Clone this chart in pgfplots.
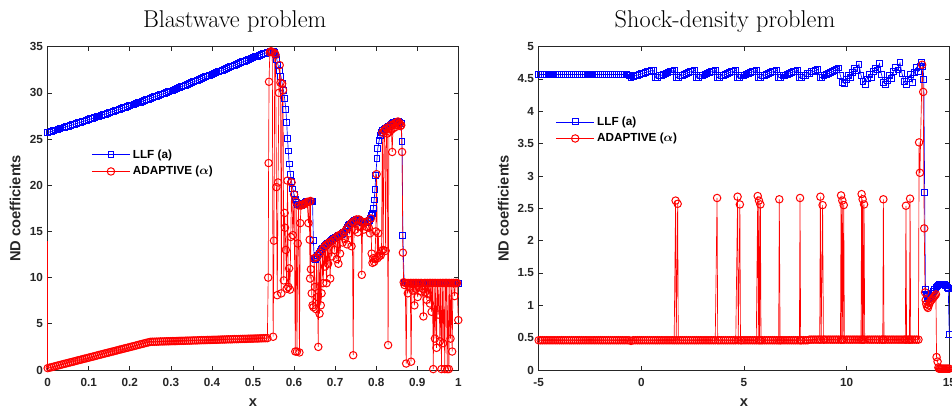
\documentclass[border=0pt]{standalone}
\usepackage{fontspec}
\usepackage{amsmath}
\usepackage{pgfplots}
\pgfplotsset{compat=1.18}
\newfontfamily\lsans{Liberation Sans}
\newcommand\tickfont{\lsans\bfseries\fontsize{8.8}{10}\selectfont}
\newcommand\labfont{\lsans\bfseries\fontsize{11}{13}\selectfont}
\definecolor{axgray}{rgb}{0.15,0.15,0.15}
\pgfplotsset{
  myax/.style={
    scale only axis, width=307.95pt, height=242.5pt, clip=false,
    tick align=inside, major tick length=3pt,
    axis line style={line width=0.6pt, color=axgray},
    tick style={line width=0.5pt, color=axgray},
    ticklabel style={font=\tickfont, text=axgray},
    xticklabel style={yshift=-3pt},
    label style={font=\labfont, text=axgray},
    legend style={draw=none, fill=none, font=\tickfont, inner sep=0pt, outer sep=0pt, row sep=0.6pt},
    legend cell align=left,
    legend image code/.code={\draw[mark repeat=2,mark phase=2] plot coordinates {(0cm,0cm) (0.5cm,0cm) (1cm,0cm)};},
  },
  bl/.style={color=blue, line width=0.5pt, mark=square, mark size=2.2pt, mark options={solid, line width=0.75pt, fill=none}},
  rd/.style={color=red, line width=0.5pt, mark=o, mark size=2.8pt, mark options={solid, line width=0.75pt, fill=none}},
}
\begin{document}
\begin{tikzpicture}
\node[anchor=base, font=\fontsize{18.2}{20}\selectfont] at (176pt,287.8pt) {Blastwave problem};
\node[anchor=base, font=\fontsize{18.2}{20}\selectfont] at (543.75pt,287.8pt) {Shock-density problem};
\begin{axis}[myax, at={(35.78pt,30.75pt)}, anchor=south west,
  xmin=0, xmax=1, ymin=0, ymax=35,
  xtick={0,0.1,0.2,0.3,0.4,0.5,0.6,0.7,0.8,0.9,1},
  xticklabels={0,0.1,0.2,0.3,0.4,0.5,0.6,0.7,0.8,0.9,1},
  ytick={0,5,10,15,20,25,30,35},
  yticklabels={0,5,10,15,20,25,30,35},
  xlabel={x}, ylabel={ND coefficients},
  xlabel style={at={(axis description cs:0.5,-0.102)}, anchor=center},
  ylabel style={at={(axis description cs:-0.0795,0.5)}, anchor=center},
  legend style={at={(axis description cs:0.107,0.69)}, anchor=north west},
]
\addplot[bl] coordinates {
(0.000,25.70)(0.005,25.77)(0.010,25.84)(0.015,25.91)(0.020,25.98)(0.025,26.05)(0.030,26.12)(0.035,26.19)(0.040,26.26)(0.045,26.33)
(0.050,26.40)(0.055,26.47)(0.060,26.54)(0.065,26.61)(0.070,26.68)(0.075,26.75)(0.080,26.82)(0.085,26.89)(0.090,26.96)(0.095,27.03)
(0.100,27.10)(0.105,27.18)(0.110,27.25)(0.115,27.33)(0.120,27.40)(0.125,27.48)(0.130,27.55)(0.135,27.63)(0.140,27.70)(0.145,27.78)
(0.150,27.85)(0.155,27.93)(0.160,28.00)(0.165,28.08)(0.170,28.15)(0.175,28.23)(0.180,28.30)(0.185,28.38)(0.190,28.45)(0.195,28.53)
(0.200,28.60)(0.205,28.68)(0.210,28.76)(0.215,28.84)(0.220,28.92)(0.225,29.00)(0.230,29.08)(0.235,29.16)(0.240,29.24)(0.245,29.32)
(0.250,29.40)(0.255,29.48)(0.260,29.56)(0.265,29.64)(0.270,29.72)(0.275,29.80)(0.280,29.88)(0.285,29.96)(0.290,30.04)(0.295,30.12)
(0.300,30.20)(0.305,30.29)(0.310,30.38)(0.315,30.47)(0.320,30.56)(0.325,30.65)(0.330,30.74)(0.335,30.83)(0.340,30.92)(0.345,31.01)
(0.350,31.10)(0.355,31.19)(0.360,31.28)(0.365,31.37)(0.370,31.46)(0.375,31.55)(0.380,31.64)(0.385,31.73)(0.390,31.82)(0.395,31.91)
(0.400,32.00)(0.405,32.09)(0.410,32.18)(0.415,32.27)(0.420,32.36)(0.425,32.45)(0.430,32.54)(0.435,32.63)(0.440,32.72)(0.445,32.81)
(0.450,32.90)(0.455,32.99)(0.460,33.08)(0.465,33.17)(0.470,33.26)(0.475,33.35)(0.480,33.44)(0.485,33.53)(0.490,33.62)(0.495,33.71)
(0.500,33.80)(0.505,33.89)(0.510,33.98)(0.515,34.06)(0.520,34.14)(0.525,34.22)(0.530,34.30)(0.535,34.36)
(0.540,34.40)(0.543,34.50)(0.546,34.50)(0.549,34.50)(0.552,34.40)(0.555,34.10)(0.558,33.60)(0.561,33.00)(0.564,32.40)(0.568,31.80)
(0.571,31.00)(0.574,30.30)(0.577,29.40)(0.580,28.20)(0.582,26.80)(0.584,25.10)(0.586,23.70)(0.588,22.30)(0.591,21.20)(0.594,20.40)
(0.597,19.60)(0.600,19.00)(0.603,18.50)(0.606,18.10)(0.609,17.90)(0.612,17.80)(0.615,17.80)(0.618,17.80)(0.621,17.90)(0.624,18.00)
(0.627,18.10)(0.630,18.20)(0.633,18.20)(0.636,18.30)(0.639,18.30)(0.642,18.30)(0.645,18.20)(0.647,14.00)(0.649,12.10)(0.652,12.00)
(0.655,12.20)(0.658,12.40)(0.661,12.60)(0.664,12.80)(0.667,13.00)(0.670,13.20)(0.673,13.40)(0.676,13.50)(0.679,13.60)(0.682,13.70)
(0.685,13.80)(0.688,13.90)(0.691,14.00)(0.694,14.10)(0.697,14.20)(0.700,14.30)(0.703,14.40)(0.706,14.50)(0.709,14.60)(0.712,14.60)
(0.715,14.70)(0.718,14.80)(0.721,14.90)(0.724,15.00)(0.727,15.20)(0.730,15.40)(0.733,15.60)(0.736,15.80)(0.739,15.90)(0.742,16.00)
(0.745,16.10)(0.748,16.20)(0.751,16.30)(0.754,16.30)(0.757,16.30)(0.760,16.20)(0.763,16.10)(0.766,16.00)(0.769,16.00)(0.772,16.00)
(0.775,16.00)(0.778,16.10)(0.781,16.10)(0.784,16.20)(0.787,16.40)(0.789,16.70)(0.791,16.90)(0.793,17.50)(0.795,18.40)(0.797,19.50)
(0.799,21.10)(0.802,22.90)(0.804,24.00)(0.807,24.80)(0.810,25.40)(0.813,25.70)(0.816,25.90)(0.819,26.00)(0.822,26.10)(0.825,26.20)
(0.828,26.30)(0.831,26.40)(0.834,26.50)(0.837,26.60)(0.840,26.70)(0.843,26.80)(0.846,26.80)(0.849,26.90)(0.852,26.90)(0.855,26.90)
(0.858,26.80)(0.861,26.70)(0.863,24.70)(0.865,14.60)(0.868,9.50)
(0.871,9.45)(0.875,9.45)(0.879,9.44)(0.883,9.44)(0.887,9.43)(0.891,9.43)(0.895,9.42)(0.899,9.42)(0.903,9.41)(0.907,9.41)
(0.911,9.40)(0.915,9.40)(0.919,9.39)(0.923,9.39)(0.927,9.38)(0.931,9.38)(0.935,9.37)(0.939,9.37)(0.943,9.36)(0.947,9.36)
(0.951,9.35)(0.955,9.35)(0.959,9.35)(0.963,9.34)(0.967,9.34)(0.971,9.34)(0.975,9.34)(0.979,9.34)(0.983,9.34)(0.987,9.34)
(0.991,9.34)(0.995,9.34)(1.000,9.34)
};
\addlegendentry{LLF (a)}
\addplot[rd] coordinates {
(0.000,0.20)(0.005,0.26)(0.010,0.31)(0.015,0.37)(0.020,0.43)(0.025,0.49)(0.030,0.54)(0.035,0.60)(0.040,0.66)(0.045,0.71)
(0.050,0.77)(0.055,0.83)(0.060,0.88)(0.065,0.94)(0.070,1.00)(0.075,1.06)(0.080,1.11)(0.085,1.17)(0.090,1.23)(0.095,1.28)
(0.100,1.34)(0.105,1.40)(0.110,1.45)(0.115,1.51)(0.120,1.57)(0.125,1.63)(0.130,1.68)(0.135,1.74)(0.140,1.80)(0.145,1.85)
(0.150,1.91)(0.155,1.97)(0.160,2.02)(0.165,2.08)(0.170,2.14)(0.175,2.20)(0.180,2.25)(0.185,2.31)(0.190,2.37)(0.195,2.42)
(0.200,2.48)(0.205,2.54)(0.210,2.59)(0.215,2.65)(0.220,2.71)(0.225,2.77)(0.230,2.82)(0.235,2.88)(0.240,2.94)(0.245,2.99)
(0.250,3.05)(0.255,3.06)(0.260,3.06)(0.265,3.07)(0.270,3.08)(0.275,3.09)(0.280,3.09)(0.285,3.10)(0.290,3.11)(0.295,3.11)
(0.300,3.12)(0.305,3.13)(0.310,3.13)(0.315,3.14)(0.320,3.15)(0.325,3.16)(0.330,3.16)(0.335,3.17)(0.340,3.18)(0.345,3.18)
(0.350,3.19)(0.355,3.20)(0.360,3.20)(0.365,3.21)(0.370,3.22)(0.375,3.23)(0.380,3.23)(0.385,3.24)(0.390,3.25)(0.395,3.25)
(0.400,3.26)(0.405,3.27)(0.410,3.27)(0.415,3.28)(0.420,3.29)(0.425,3.30)(0.430,3.30)(0.435,3.31)(0.440,3.32)(0.445,3.32)
(0.450,3.33)(0.455,3.34)(0.460,3.34)(0.465,3.35)(0.470,3.36)(0.475,3.37)(0.480,3.37)(0.485,3.38)(0.490,3.39)(0.495,3.39)
(0.500,3.40)(0.505,3.41)(0.510,3.41)(0.515,3.42)(0.520,3.43)(0.525,3.44)(0.530,3.44)(0.535,3.45)
(0.537,10.0)(0.538,22.4)(0.539,31.2)(0.541,34.4)(0.544,34.5)(0.547,34.4)(0.549,3.6)(0.551,14.0)(0.553,34.3)(0.555,34.1)
(0.557,19.8)(0.559,8.1)(0.561,20.3)(0.563,30.0)(0.565,33.0)(0.567,31.1)(0.569,8.3)(0.571,31.0)(0.573,30.3)(0.575,9.7)
(0.577,17.0)(0.578,15.4)(0.580,13.0)(0.582,8.8)(0.584,20.5)(0.586,9.0)(0.588,11.0)(0.590,8.7)(0.592,14.4)(0.594,20.3)
(0.597,14.6)(0.600,19.0)(0.603,2.0)(0.605,18.2)(0.607,2.0)(0.609,13.7)(0.611,17.8)(0.613,1.9)(0.615,15.9)(0.617,17.8)
(0.620,17.9)(0.623,17.9)(0.626,18.0)(0.629,18.1)(0.632,18.2)(0.635,15.9)(0.637,18.2)(0.638,14.1)(0.639,9.9)(0.640,18.3)
(0.641,10.9)(0.643,8.3)(0.645,7.0)(0.647,6.8)(0.649,12.1)(0.651,9.0)(0.653,6.6)(0.655,12.2)(0.657,7.9)(0.659,2.5)
(0.660,12.5)(0.662,6.1)(0.664,12.7)(0.665,7.0)(0.667,8.3)(0.669,13.0)(0.671,9.4)(0.673,13.3)(0.675,11.2)(0.677,13.5)
(0.679,9.4)(0.681,13.6)(0.683,11.5)(0.685,13.8)(0.688,9.9)(0.690,13.9)(0.692,12.3)(0.695,14.1)(0.698,13.0)(0.701,14.3)
(0.704,12.0)(0.706,14.5)(0.708,11.5)(0.710,14.6)(0.712,12.6)(0.715,14.7)(0.718,13.8)(0.721,14.9)(0.724,14.2)(0.727,15.2)
(0.729,13.6)(0.732,15.5)(0.735,14.8)(0.738,15.8)(0.740,13.4)(0.742,16.0)(0.744,1.6)(0.746,16.1)(0.749,15.2)(0.752,16.3)
(0.755,14.9)(0.758,16.3)(0.761,15.5)(0.764,16.1)(0.765,10.3)(0.767,16.0)(0.770,15.2)(0.773,16.0)(0.776,15.5)(0.779,16.1)
(0.782,15.4)(0.785,14.8)(0.787,16.4)(0.789,12.6)(0.791,11.6)(0.793,12.1)(0.795,11.7)(0.797,12.0)(0.799,15.0)(0.801,21.2)
(0.803,12.1)(0.805,14.8)(0.807,12.3)(0.809,12.6)(0.811,12.4)(0.813,12.9)(0.815,25.7)(0.817,13.0)(0.819,25.9)(0.821,26.0)
(0.823,12.9)(0.825,26.2)(0.827,25.6)(0.829,2.7)(0.831,26.2)(0.833,25.8)(0.835,26.5)(0.837,26.0)(0.839,23.6)(0.841,26.5)
(0.843,26.2)(0.845,26.7)(0.847,26.3)(0.849,26.8)(0.851,26.5)(0.853,26.9)(0.855,26.6)(0.857,26.7)(0.859,26.4)(0.861,26.5)
(0.863,23.6)(0.865,12.7)(0.867,9.5)(0.869,9.2)(0.871,9.42)(0.873,0.7)(0.875,9.42)(0.877,8.3)(0.879,9.42)(0.881,9.0)
(0.883,9.42)(0.885,0.9)(0.887,9.42)(0.889,8.6)(0.891,9.42)(0.893,7.0)(0.895,9.42)(0.897,8.8)(0.899,9.42)(0.901,7.9)
(0.903,9.42)(0.905,9.0)(0.907,9.42)(0.909,8.5)(0.911,9.42)(0.913,8.8)(0.915,5.8)(0.917,9.42)(0.919,8.4)(0.921,9.42)
(0.923,7.6)(0.925,9.42)(0.927,8.2)(0.929,9.42)(0.931,7.2)(0.933,9.42)(0.935,6.3)(0.937,9.42)(0.939,0.1)(0.941,9.42)
(0.943,3.4)(0.945,9.42)(0.947,2.4)(0.949,9.42)(0.951,6.0)(0.953,9.42)(0.955,3.1)(0.957,9.42)(0.959,0.1)(0.961,9.42)
(0.963,2.9)(0.965,9.42)(0.967,0.1)(0.969,9.42)(0.971,9.42)(0.973,0.1)(0.975,9.42)(0.977,0.1)(0.979,9.42)(0.981,3.4)
(0.983,9.42)(0.985,2.0)(0.987,9.42)(0.989,9.42)(0.991,8.0)(0.993,9.42)(0.995,9.42)(0.997,9.42)(1.000,5.4)
};
\addlegendentry{ADAPTIVE ($\boldsymbol{\alpha}$)}
\addplot[red, line width=0.5pt, forget plot] coordinates {(0,0.2)(0,14.0)};
\end{axis}
\begin{axis}[myax, at={(404.0pt,30.75pt)}, anchor=south west,
  xmin=-5, xmax=15, ymin=0, ymax=5,
  xtick={-5,0,5,10,15}, xticklabels={-5,0,5,10,15},
  ytick={0,0.5,1,1.5,2,2.5,3,3.5,4,4.5,5},
  yticklabels={0,0.5,1,1.5,2,2.5,3,3.5,4,4.5,5},
  xlabel={x}, ylabel={ND coefficients},
  xlabel style={at={(axis description cs:0.5,-0.102)}, anchor=center},
  ylabel style={at={(axis description cs:-0.0857,0.5)}, anchor=center},
  legend style={at={(axis description cs:0.042,0.792)}, anchor=north west},
]
\addplot[bl] coordinates {
(-5.0,4.57)(-4.9,4.57)(-4.8,4.57)(-4.7,4.57)(-4.6,4.57)(-4.5,4.57)(-4.4,4.57)(-4.3,4.57)(-4.2,4.57)(-4.1,4.57)
(-4.0,4.57)(-3.9,4.57)(-3.8,4.57)(-3.7,4.57)(-3.6,4.57)(-3.5,4.57)(-3.4,4.57)(-3.3,4.57)(-3.2,4.57)(-3.1,4.57)
(-3.0,4.57)(-2.9,4.57)(-2.8,4.57)(-2.7,4.57)(-2.6,4.57)(-2.5,4.57)(-2.4,4.57)(-2.3,4.57)(-2.2,4.57)(-2.1,4.57)
(-2.0,4.57)(-1.9,4.57)(-1.8,4.57)(-1.7,4.57)(-1.6,4.57)(-1.5,4.57)(-1.4,4.57)(-1.3,4.57)(-1.2,4.57)(-1.1,4.57)
(-1.0,4.57)(-0.9,4.57)(-0.8,4.57)(-0.7,4.57)(-0.6,4.56)
(-0.5,4.53)(-0.4,4.54)(-0.3,4.55)(-0.2,4.56)(-0.1,4.57)(0.0,4.58)(0.1,4.59)(0.2,4.60)(0.3,4.61)(0.4,4.62)(0.5,4.63)(0.6,4.63)
(0.7,4.52)(0.8,4.53)(0.9,4.55)(1.0,4.56)(1.1,4.57)(1.2,4.59)(1.3,4.60)(1.4,4.61)(1.5,4.62)(1.6,4.64)
(1.7,4.52)(1.8,4.53)(1.9,4.55)(2.0,4.56)(2.1,4.57)(2.2,4.59)(2.3,4.60)(2.4,4.61)(2.5,4.62)(2.6,4.64)
(2.7,4.52)(2.8,4.53)(2.9,4.55)(3.0,4.56)(3.1,4.57)(3.2,4.59)(3.3,4.60)(3.4,4.61)(3.5,4.62)(3.6,4.64)
(3.7,4.52)(3.8,4.53)(3.9,4.55)(4.0,4.56)(4.1,4.57)(4.2,4.59)(4.3,4.60)(4.4,4.61)(4.5,4.62)(4.6,4.64)
(4.7,4.52)(4.8,4.53)(4.9,4.55)(5.0,4.56)(5.1,4.57)(5.2,4.59)(5.3,4.60)(5.4,4.61)(5.5,4.62)(5.6,4.64)
(5.7,4.52)(5.8,4.53)(5.9,4.55)(6.0,4.56)(6.1,4.57)(6.2,4.59)(6.3,4.60)(6.4,4.61)(6.5,4.62)(6.6,4.64)
(6.7,4.52)(6.8,4.53)(6.9,4.55)(7.0,4.56)(7.1,4.57)(7.2,4.59)(7.3,4.60)(7.4,4.61)(7.5,4.62)(7.6,4.64)
(7.7,4.52)(7.8,4.53)(7.9,4.55)(8.0,4.56)(8.1,4.58)(8.2,4.59)(8.3,4.61)(8.4,4.62)(8.5,4.63)(8.6,4.65)
(8.7,4.52)(8.8,4.53)(8.9,4.55)(9.0,4.57)(9.1,4.58)(9.2,4.60)(9.3,4.61)(9.4,4.63)(9.5,4.65)(9.6,4.67)
(9.7,4.55)(9.8,4.45)(9.9,4.43)(10.0,4.49)(10.1,4.56)(10.2,4.52)(10.3,4.60)(10.4,4.66)(10.5,4.63)(10.6,4.73)
(10.7,4.56)(10.8,4.46)(10.9,4.42)(11.0,4.50)(11.1,4.57)(11.2,4.53)(11.3,4.61)(11.4,4.67)(11.5,4.64)(11.6,4.74)
(11.7,4.57)(11.8,4.45)(11.9,4.42)(12.0,4.48)(12.1,4.56)(12.2,4.51)(12.3,4.62)(12.4,4.68)(12.5,4.64)(12.6,4.75)
(12.7,4.58)(12.8,4.46)(12.9,4.42)(13.0,4.50)(13.1,4.57)(13.2,4.45)(13.3,4.60)(13.4,4.68)(13.5,4.62)(13.6,4.70)
(13.66,4.76)(13.72,4.70)(13.76,4.49)(13.80,2.75)(13.84,1.24)(13.88,1.17)(13.92,1.13)(13.96,1.11)(14.00,1.10)(14.05,1.11)
(14.10,1.13)(14.15,1.15)(14.20,1.18)(14.25,1.21)(14.30,1.24)(14.35,1.27)(14.40,1.29)(14.45,1.31)(14.50,1.32)(14.55,1.33)
(14.60,1.33)(14.65,1.33)(14.70,1.32)(14.75,1.32)(14.80,1.31)(14.85,1.30)(14.90,1.28)(14.95,1.26)(15.00,0.55)
};
\addlegendentry{LLF (a)}
\addplot[rd] coordinates {
(-5.0,0.46)(-4.9,0.46)(-4.8,0.46)(-4.7,0.46)(-4.6,0.46)(-4.5,0.46)(-4.4,0.46)(-4.3,0.46)(-4.2,0.46)(-4.1,0.46)
(-4.0,0.46)(-3.9,0.46)(-3.8,0.46)(-3.7,0.46)(-3.6,0.46)(-3.5,0.46)(-3.4,0.46)(-3.3,0.46)(-3.2,0.46)(-3.1,0.46)
(-3.0,0.46)(-2.9,0.46)(-2.8,0.46)(-2.7,0.46)(-2.6,0.46)(-2.5,0.46)(-2.4,0.46)(-2.3,0.46)(-2.2,0.46)(-2.1,0.46)
(-2.0,0.46)(-1.9,0.46)(-1.8,0.46)(-1.7,0.46)(-1.6,0.46)(-1.5,0.46)(-1.4,0.46)(-1.3,0.46)(-1.2,0.46)(-1.1,0.46)
(-1.0,0.46)(-0.9,0.46)(-0.8,0.46)(-0.7,0.46)(-0.6,0.46)(-0.5,0.45)(-0.4,0.46)(-0.3,0.46)(-0.2,0.46)(-0.1,0.46)
(0.0,0.46)(0.1,0.46)(0.2,0.46)(0.3,0.46)(0.4,0.46)(0.5,0.46)(0.6,0.46)(0.7,0.46)(0.8,0.46)(0.9,0.46)
(1.0,0.46)(1.1,0.46)(1.2,0.46)(1.3,0.46)(1.4,0.46)(1.5,0.46)(1.6,0.46)(1.67,2.62)(1.70,0.46)(1.77,2.57)(1.80,0.46)(1.9,0.46)
(2.0,0.46)(2.1,0.46)(2.2,0.46)(2.3,0.46)(2.4,0.46)(2.5,0.46)(2.6,0.46)(2.7,0.46)(2.8,0.46)(2.9,0.46)
(3.0,0.46)(3.1,0.46)(3.2,0.46)(3.3,0.46)(3.4,0.46)(3.5,0.46)(3.6,0.46)(3.69,2.66)(3.72,0.46)(3.8,0.46)(3.9,0.46)
(4.0,0.46)(4.1,0.46)(4.2,0.46)(4.3,0.46)(4.4,0.46)(4.5,0.46)(4.6,0.46)(4.69,2.68)(4.72,0.46)(4.80,2.56)(4.83,0.46)(4.9,0.46)
(5.0,0.46)(5.1,0.46)(5.2,0.46)(5.3,0.46)(5.4,0.46)(5.5,0.46)(5.6,0.46)(5.67,2.69)(5.70,0.46)(5.73,2.62)(5.76,0.46)(5.80,2.56)(5.83,0.46)(5.9,0.46)
(6.0,0.46)(6.1,0.46)(6.2,0.46)(6.3,0.46)(6.4,0.46)(6.5,0.46)(6.6,0.46)(6.69,0.46)(6.72,2.64)(6.76,0.46)(6.8,0.46)(6.9,0.46)
(7.0,0.46)(7.1,0.46)(7.2,0.46)(7.3,0.46)(7.4,0.46)(7.5,0.46)(7.6,0.46)(7.70,0.46)(7.73,2.66)(7.76,0.46)(7.8,0.46)(7.9,0.46)
(8.0,0.46)(8.1,0.46)(8.2,0.47)(8.3,0.47)(8.4,0.47)(8.5,0.47)(8.6,0.47)(8.69,0.47)(8.72,2.68)(8.76,0.47)(8.83,2.55)(8.87,0.47)(8.9,0.47)
(9.0,0.47)(9.1,0.47)(9.2,0.47)(9.3,0.47)(9.4,0.47)(9.5,0.47)(9.6,0.47)(9.70,0.47)(9.73,2.70)(9.76,0.47)(9.79,2.62)(9.82,0.47)(9.86,2.55)(9.89,0.47)
(10.0,0.47)(10.1,0.47)(10.2,0.47)(10.3,0.47)(10.4,0.47)(10.5,0.47)(10.6,0.47)(10.70,0.47)(10.73,2.72)(10.76,0.47)(10.78,2.64)(10.81,0.47)(10.85,2.56)(10.88,0.47)
(11.0,0.47)(11.1,0.47)(11.2,0.47)(11.3,0.47)(11.4,0.47)(11.5,0.47)(11.6,0.47)(11.7,0.47)(11.76,0.47)(11.79,2.64)(11.82,0.47)(11.9,0.47)
(12.0,0.47)(12.1,0.47)(12.2,0.47)(12.3,0.47)(12.4,0.47)(12.5,0.47)(12.6,0.47)(12.7,0.47)(12.8,0.47)(12.86,0.47)(12.89,2.54)(12.92,0.47)
(13.0,0.47)(13.06,0.47)(13.09,2.65)(13.12,0.47)(13.2,0.47)(13.3,0.47)(13.4,0.47)(13.5,0.47)
(13.53,3.52)(13.57,3.05)(13.68,4.72)(13.73,4.30)(13.78,2.19)(13.82,1.20)(13.85,1.08)(13.88,1.02)(13.92,0.98)(13.96,0.96)
(14.00,1.00)(14.05,1.04)(14.10,1.07)(14.15,1.09)(14.20,1.11)(14.25,1.13)(14.30,1.15)(14.35,1.17)(14.38,0.20)(14.43,0.13)
(14.47,0.04)(14.50,0.02)(14.55,0.02)(14.60,0.02)(14.65,0.02)(14.70,0.02)(14.75,0.02)(14.80,0.02)(14.85,0.02)(14.90,0.02)
(14.95,0.02)(15.00,0.02)
};
\addlegendentry{ADAPTIVE ($\boldsymbol{\alpha}$)}
\end{axis}
\pgfresetboundingbox
\path[use as bounding box] (0pt,0pt) rectangle (714pt,308.25pt);
\end{tikzpicture}
\end{document}
